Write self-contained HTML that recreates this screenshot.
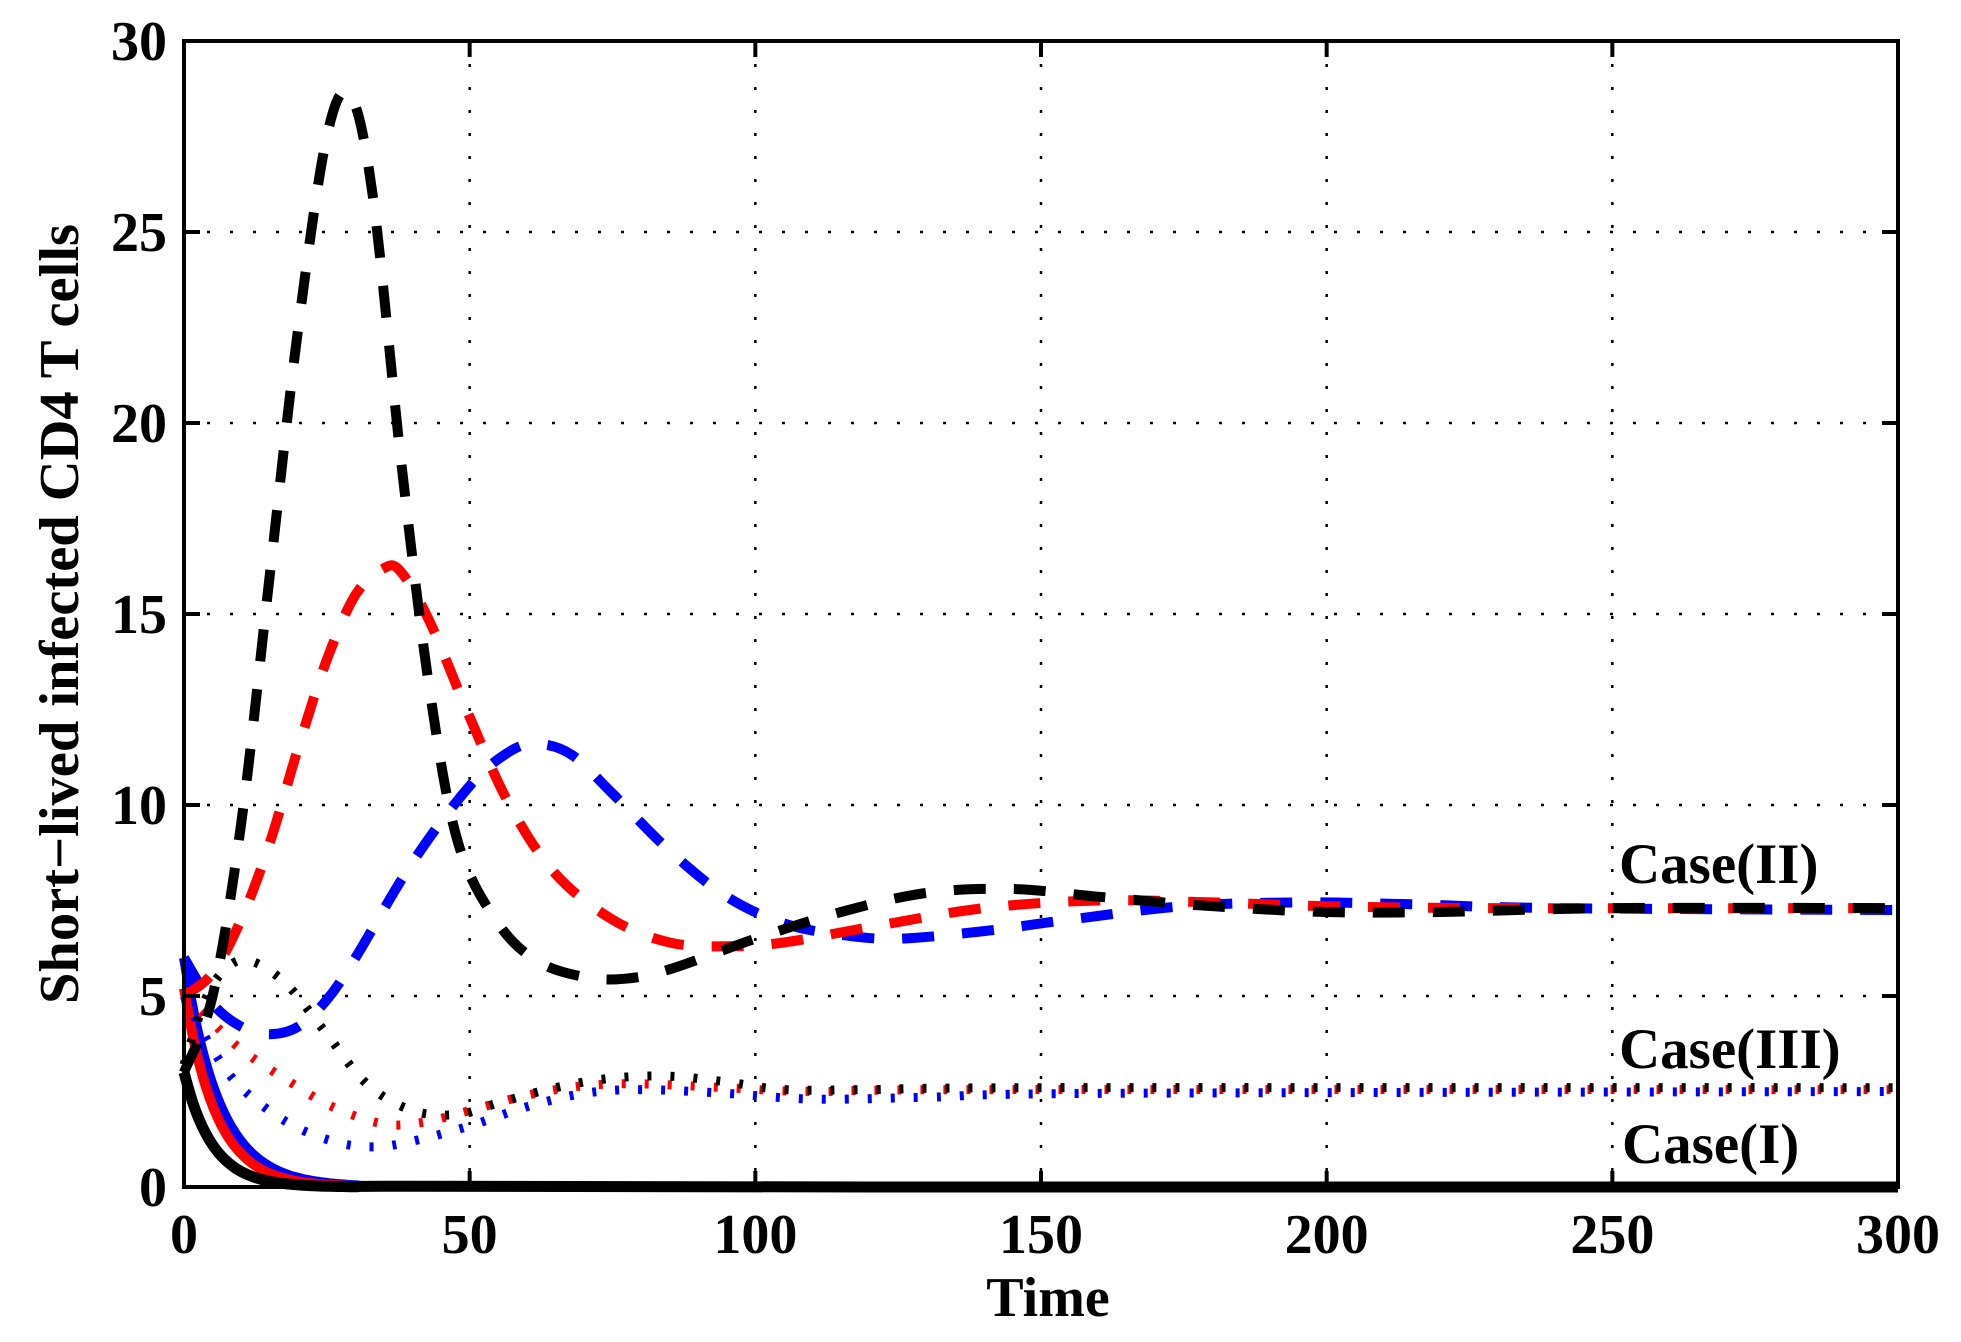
<!DOCTYPE html>
<html><head><meta charset="utf-8"><style>
html,body{margin:0;padding:0;background:#fff;}
svg{display:block;}
text{font-family:"Liberation Serif","Times New Roman",serif;font-weight:bold;fill:#000;}
</style></head><body>
<svg id="s" width="1961" height="1342" viewBox="0 0 1961 1342" xmlns="http://www.w3.org/2000/svg">
<rect width="1961" height="1342" fill="#fff"/>
<g id="grid" stroke="#000" stroke-width="2.5" stroke-dasharray="3 20"></g>
<g id="curves" fill="none"></g>
<rect x="184" y="41" width="1714" height="1146" fill="none" stroke="#000" stroke-width="4"/>
<g id="ticks" stroke="#000" stroke-width="4"></g>
<g id="labels" font-size="56"></g>
<text x="1048" y="1316" font-size="56" text-anchor="middle">Time</text>
<text transform="translate(78,614) rotate(-90)" font-size="56" text-anchor="middle" textLength="780" lengthAdjust="spacingAndGlyphs">Short−lived infected CD4 T cells</text>
<text x="1619" y="883" font-size="57">Case(II)</text>
<text x="1619" y="1068" font-size="57">Case(III)</text>
<text x="1622" y="1163" font-size="57">Case(I)</text>
</svg>
<script>
var L=184,R=1898,T=41,B=1187,ns="http://www.w3.org/2000/svg";
function X(t){return L+t*(R-L)/300;}function Y(v){return B-v*(B-T)/30;}
function el(p,tag,a,txt){var e=document.createElementNS(ns,tag);for(var k in a)e.setAttribute(k,a[k]);if(txt!=null)e.textContent=txt;p.appendChild(e);return e;}
var g=document.getElementById('grid'),tk=document.getElementById('ticks'),lb=document.getElementById('labels');
for(var t=50;t<300;t+=50){el(g,'line',{x1:X(t),y1:T,x2:X(t),y2:B});}
for(var v=5;v<30;v+=5){el(g,'line',{x1:L,y1:Y(v),x2:R,y2:Y(v)});}
for(var t=0;t<=300;t+=50){el(tk,'line',{x1:X(t),y1:B,x2:X(t),y2:B-16});el(tk,'line',{x1:X(t),y1:T,x2:X(t),y2:T+16});
 el(lb,'text',{x:X(t),y:1253,'text-anchor':'middle'},String(t));}
for(var v=0;v<=30;v+=5){el(tk,'line',{x1:L,y1:Y(v),x2:L+16,y2:Y(v)});el(tk,'line',{x1:R,y1:Y(v),x2:R-16,y2:Y(v)});
 el(lb,'text',{x:167,y:Y(v)+19,'text-anchor':'end'},String(v));}
function cr(pts){var d="M"+X(pts[0][0]).toFixed(1)+","+Y(pts[0][1]).toFixed(1);
 for(var i=0;i<pts.length-1;i++){var p0=pts[Math.max(0,i-1)],p1=pts[i],p2=pts[i+1],p3=pts[Math.min(pts.length-1,i+2)];
  var a=[X(p1[0]),Y(p1[1])],b=[X(p2[0]),Y(p2[1])],a0=[X(p0[0]),Y(p0[1])],b3=[X(p3[0]),Y(p3[1])];
  var c1=[a[0]+(b[0]-a0[0])/6,a[1]+(b[1]-a0[1])/6],c2=[b[0]-(b3[0]-a[0])/6,b[1]-(b3[1]-a[1])/6];
  d+=" C"+c1[0].toFixed(1)+","+c1[1].toFixed(1)+" "+c2[0].toFixed(1)+","+c2[1].toFixed(1)+" "+b[0].toFixed(1)+","+b[1].toFixed(1);}
 return d;}
var cv=document.getElementById('curves');
function draw(pts,col,w,dash){var a={d:cr(pts),stroke:col,'stroke-width':w,'stroke-linejoin':'round'};if(dash)a['stroke-dasharray']=dash;el(cv,'path',a);}
function expo(a,tau){var p=[];for(var t=0;t<=30;t+=1.5)p.push([t,a*Math.exp(-t/tau)]);p.push([40,0.02]);p.push([120,0]);p.push([300,0]);return p;}
// solid Case I
draw(expo(6,6.2),'#00f',10);draw(expo(5.2,5.6),'#f00',10);draw(expo(3,5),'#000',11);
// dotted Case III
var dotd="4 19";
draw([[0,5],[5,3.6],[10,2.6],[18,1.7],[26,1.2],[33,1.05],[40,1.2],[50,1.6],[60,2.1],[70,2.45],[80,2.55],[95,2.45],[110,2.3],[130,2.35],[160,2.45],[300,2.5]],'#00f',9,dotd);
draw([[0,5],[5,4.3],[10,3.6],[18,2.8],[26,2.1],[35,1.65],[42,1.7],[50,2],[60,2.4],[70,2.65],[80,2.7],[95,2.6],[110,2.5],[140,2.55],[300,2.55]],'#f00',9,dotd);
draw([[0,3.2],[4,5],[8,5.8],[12,5.9],[18,5.3],[25,4],[32,2.7],[40,2],[48,1.9],[55,2.2],[65,2.6],[75,2.85],[85,2.9],[95,2.75],[105,2.55],[120,2.55],[150,2.6],[300,2.6]],'#000',9,dotd);
// dashed Case II
var dd="32 28";
draw([[0,6],[5,4.8],[10,4.2],[15,4],[20,4.2],[25,4.9],[30,6],[40,8.5],[50,10.5],[57,11.4],[62,11.6],[68,11.3],[75,10.3],[85,8.8],[95,7.6],[105,6.9],[115,6.6],[125,6.5],[140,6.7],[155,7],[175,7.35],[195,7.45],[215,7.4],[240,7.3],[300,7.25]],'#00f',10,dd);
draw([[0,5],[5,5.6],[10,7],[15,9],[20,11.5],[25,13.8],[30,15.5],[35,16.2],[38,16.1],[43,14.8],[50,12.3],[57,10],[65,8.2],[75,7],[85,6.4],[95,6.3],[105,6.4],[120,6.8],[140,7.3],[160,7.5],[180,7.45],[200,7.35],[230,7.3],[300,7.3]],'#f00',10,dd);
draw([[0,3],[5,5],[10,9.5],[15,16],[20,22.5],[25,27.5],[29,28.6],[33,26],[38,19],[43,13],[48,9],[55,6.9],[62,5.9],[70,5.5],[77,5.45],[85,5.7],[100,6.5],[115,7.2],[130,7.7],[145,7.8],[160,7.6],[180,7.35],[200,7.2],[220,7.2],[250,7.3],[300,7.3]],'#000',10,dd);
</script>
</body></html>
